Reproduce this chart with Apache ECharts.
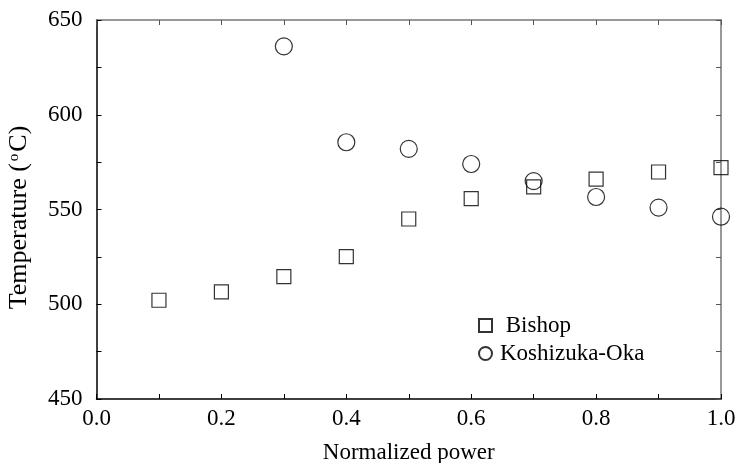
<!DOCTYPE html>
<html>
<head>
<meta charset="utf-8">
<script src="https://cdn.jsdelivr.net/npm/echarts@6/dist/echarts.min.js"></script>
<style>
html,body{margin:0;padding:0;background:#fff;}
#chart{width:739px;height:463px;}
</style>
</head>
<body>
<div id="chart"></div>
<script>
var powerLevels = [0.1, 0.2, 0.3, 0.4, 0.5, 0.6, 0.7, 0.8, 0.9, 1.0];
var bishopTemps = [502.1, 506.5, 514.6, 525.1, 545.0, 555.7, 561.9, 566.0, 569.8, 572.1];
var koshizukaPower = [0.3, 0.4, 0.5, 0.6, 0.7, 0.8, 0.9, 1.0];
var koshizukaTemps = [636.1, 585.5, 582.0, 574.0, 565.0, 556.6, 551.0, 546.2];
var seriesNames = ['Bishop', 'Koshizuka-Oka'];
var xLabelTicks = ['0.0', '0.2', '0.4', '0.6', '0.8', '1.0'];
var yLabelTicks = [450, 500, 550, 600, 650];

var FONT = 'Liberation Serif';
function zip(xs, ys){ return xs.map(function(x,i){ return [x, ys[i]]; }); }

var chart = echarts.init(document.getElementById('chart'), null, {renderer:'canvas'});
var markStyle = {color:'rgba(0,0,0,0)', borderColor:'#000', borderWidth:1.2};
chart.setOption({
  animation:false,
  backgroundColor:'#fff',
  grid:{left:96.5, right:18, top:20, bottom:64, containLabel:false, outerBoundsMode:'none'},
  legend:{
    orient:'vertical', left:473, top:309,
    itemWidth:13, itemHeight:13, itemGap:5,
    data:seriesNames,
    formatter:function(n){ return n === 'Bishop' ? ' Bishop' : n; },
    textStyle:{fontFamily:FONT, fontSize:23, color:'#000', lineHeight:23, padding:[0,0,0,3]}
  },
  xAxis:[{
    type:'value', min:0, max:1, interval:0.1, position:'bottom',
    name:'Normalized power', nameLocation:'middle', nameGap:42,
    nameTextStyle:{fontFamily:FONT, fontSize:23, color:'#000'},
    axisLine:{lineStyle:{color:'#000', width:1.5}},
    axisTick:{inside:true, length:5, lineStyle:{color:'#000', width:1}},
    axisLabel:{margin:8, fontFamily:FONT, fontSize:23, color:'#000',
      formatter:function(v){ var s=v.toFixed(1); return xLabelTicks.indexOf(s)>=0 ? s : ''; }},
    splitLine:{show:false}
  },{
    type:'value', min:0, max:1, interval:0.1, position:'top',
    axisLine:{onZero:false, lineStyle:{color:'#777', width:1.5}},
    axisTick:{inside:true, length:5, lineStyle:{color:'#555', width:1}},
    axisLabel:{show:false}, splitLine:{show:false}
  }],
  yAxis:[{
    type:'value', min:450, max:650, interval:25, position:'left',
    name:'Temperature ({sup|o}C)', nameLocation:'middle', nameGap:64, nameRotate:90,
    nameTextStyle:{fontFamily:FONT, fontSize:26, color:'#000', padding:[0,16,0,0],
      rich:{sup:{fontFamily:FONT, fontSize:15, color:'#000', verticalAlign:'top', padding:[0,2,10,2]}}},
    axisLine:{lineStyle:{color:'#000', width:1.5}},
    axisTick:{inside:true, length:5, lineStyle:{color:'#000', width:1}},
    axisLabel:{margin:14, fontFamily:FONT, fontSize:23, color:'#000',
      formatter:function(v){ return yLabelTicks.indexOf(v)>=0 ? String(v) : ''; }},
    splitLine:{show:false}
  },{
    type:'value', min:450, max:650, interval:25, position:'right',
    axisLine:{onZero:false, lineStyle:{color:'#777', width:1.5}},
    axisTick:{inside:true, length:5, lineStyle:{color:'#555', width:1}},
    axisLabel:{show:false}, splitLine:{show:false}
  }],
  series:[{
    name:seriesNames[0], type:'scatter', symbol:'rect', symbolSize:14,
    xAxisIndex:0, yAxisIndex:0,
    itemStyle:markStyle, data:zip(powerLevels, bishopTemps)
  },{
    name:seriesNames[1], type:'scatter', symbol:'circle', symbolSize:17,
    xAxisIndex:0, yAxisIndex:0,
    itemStyle:markStyle, data:zip(koshizukaPower, koshizukaTemps)
  }]
});
</script>
</body>
</html>
